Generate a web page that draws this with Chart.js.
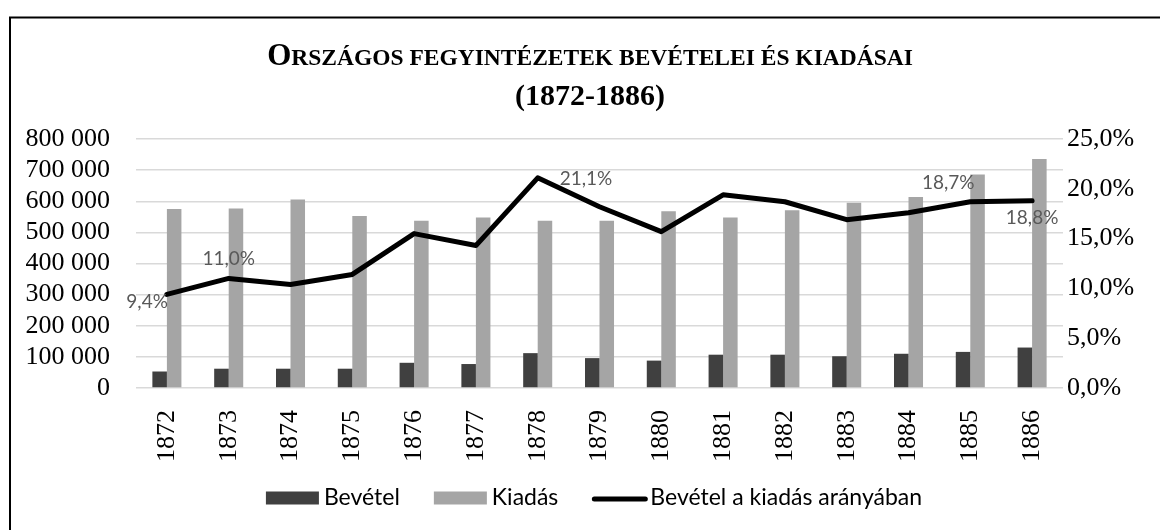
<!DOCTYPE html>
<html>
<head>
<meta charset="utf-8">
<script src="https://cdn.jsdelivr.net/npm/chart.js@4.4.1/dist/chart.umd.min.js"></script>
<style>
  html, body { margin: 0; padding: 0; background: #fff; }
  #wrap { width: 1160px; height: 530px; position: relative; }
</style>
</head>
<body>
<div id="wrap"><canvas id="chart"></canvas></div>
<script>
/* Országos fegyintézetek bevételei és kiadásai (1872-1886) */

const EVEK = ["1872", "1873", "1874", "1875", "1876", "1877", "1878", "1879",
              "1880", "1881", "1882", "1883", "1884", "1885", "1886"];

const BEVETEL = [53000, 62000, 62000, 62000, 81000, 77000, 112000, 96000,
                 88000, 107000, 107000, 102000, 110000, 116000, 130000];

const KIADAS = [575000, 577000, 606000, 553000, 537000, 548000, 537000, 537000,
                568000, 548000, 571000, 595000, 614000, 686000, 736000];

// bevétel a kiadás arányában, %
const ARANY = [9.4, 11.0, 10.4, 11.4, 15.5, 14.3, 21.1, 18.2,
               15.7, 19.4, 18.7, 16.9, 17.6, 18.7, 18.8];

const BAL_TENGELY = [0, 100000, 200000, 300000, 400000, 500000, 600000, 700000, 800000];
const JOBB_TENGELY = [0, 5, 10, 15, 20, 25];

const CIM_1 = "Országos fegyintézetek bevételei és kiadásai";
const CIM_2 = "(1872-1886)";

const SERIF = "'Liberation Serif', 'Times New Roman', serif";
const SANS = "Lato, 'Open Sans', sans-serif";

/* címkék helye a vonalon (index -> eltolás) */
const CIMKE_HELY = {
    0:  { dx: 1,   dy: 7,   align: "right" },
    1:  { dx: 0,   dy: -20, align: "center" },
    6:  { dx: 22,  dy: 1,   align: "left" },
    13: { dx: -22, dy: -19, align: "center" },
    14: { dx: 0,   dy: 17,  align: "center" }
};

function ezres(v) {
    if (v === 0) return "0";
    return String(v).replace(/\B(?=(\d{3})+(?!\d))/g, " ");
}

function szazalek(v) {
    return v.toFixed(1).replace(".", ",") + "%";
}

/* keret + fehér háttér */
const keretPlugin = {
    id: "keret",
    beforeDraw(chart) {
        const ctx = chart.ctx;
        ctx.save();
        ctx.fillStyle = "#fff";
        ctx.fillRect(0, 0, chart.width, chart.height);
        ctx.strokeStyle = "#000";
        ctx.lineWidth = 2;
        ctx.beginPath();
        ctx.moveTo(10, chart.height + 10);
        ctx.lineTo(10, 17.5);
        ctx.lineTo(chart.width + 10, 17.5);
        ctx.stroke();
        ctx.restore();
    }
};

/* kiskapitális cím */
function kiskapitalis(ctx, text, cx, y, nagy, kicsi) {
    const darabok = [];
    let szel = 0;
    for (const ch of text) {
        const upper = ch !== ch.toLowerCase();
        const meret = upper ? nagy : kicsi;
        const c = ch.toUpperCase();
        ctx.font = "bold " + meret + "px " + SERIF;
        const w = ctx.measureText(c).width;
        darabok.push({ c, meret, w });
        szel += w;
    }
    let x = cx - szel / 2;
    for (const d of darabok) {
        ctx.font = "bold " + d.meret + "px " + SERIF;
        ctx.fillText(d.c, x, y);
        x += d.w;
    }
}

const cimPlugin = {
    id: "cim",
    afterDraw(chart) {
        const ctx = chart.ctx;
        ctx.save();
        ctx.fillStyle = "#000";
        ctx.textBaseline = "alphabetic";
        ctx.textAlign = "left";
        kiskapitalis(ctx, CIM_1, 590, 65, 31, 23.5);
        ctx.textAlign = "center";
        ctx.font = "bold 30px " + SERIF;
        ctx.fillText(CIM_2, 590, 105);
        ctx.restore();
    }
};

/* adatcímkék a vonalon */
const cimkePlugin = {
    id: "cimkek",
    afterDatasetsDraw(chart) {
        const meta = chart.getDatasetMeta(2);
        const ctx = chart.ctx;
        ctx.save();
        ctx.font = "19px " + SANS;
        ctx.fillStyle = "#595959";
        ctx.textBaseline = "middle";
        for (const i in CIMKE_HELY) {
            const p = meta.data[i];
            const h = CIMKE_HELY[i];
            ctx.textAlign = h.align;
            ctx.fillText(szazalek(ARANY[i]), p.x + h.dx, p.y + h.dy);
        }
        ctx.restore();
    }
};

/* jelmagyarázat */
const jelmagyarazatPlugin = {
    id: "jelmagyarazat",
    afterDraw(chart) {
        const ctx = chart.ctx;
        const ds = chart.data.datasets;
        ctx.save();
        ctx.font = "23px " + SANS;
        ctx.textBaseline = "middle";
        ctx.textAlign = "left";
        const jelW = 53, res = 5, koz = 34, y = 498;
        let teljes = 0;
        ds.forEach((d, i) => {
            teljes += jelW + res + ctx.measureText(d.label).width;
            if (i < ds.length - 1) teljes += koz;
        });
        let x = 594 - teljes / 2;
        for (const d of ds) {
            if (d.type === "line") {
                ctx.strokeStyle = d.borderColor;
                ctx.lineWidth = 5;
                ctx.lineCap = "round";
                ctx.beginPath();
                ctx.moveTo(x + 2, y + 1);
                ctx.lineTo(x + jelW, y + 1);
                ctx.stroke();
            } else {
                ctx.fillStyle = d.backgroundColor;
                ctx.fillRect(x, y - 6.5, jelW, 13);
            }
            x += jelW + res;
            ctx.fillStyle = "#000";
            ctx.fillText(d.label, x, y);
            x += ctx.measureText(d.label).width + koz;
        }
        ctx.restore();
    }
};

new Chart(document.getElementById("chart"), {
    data: {
        labels: EVEK,
        datasets: [
            {
                type: "bar",
                label: "Bevétel",
                data: BEVETEL,
                backgroundColor: "#404040",
                yAxisID: "y",
                order: 1,
                categoryPercentage: 0.47,
                barPercentage: 1
            },
            {
                type: "bar",
                label: "Kiadás",
                data: KIADAS,
                backgroundColor: "#a5a5a5",
                yAxisID: "y",
                order: 1,
                categoryPercentage: 0.47,
                barPercentage: 1
            },
            {
                type: "line",
                label: "Bevétel a kiadás arányában",
                data: ARANY,
                borderColor: "#000",
                backgroundColor: "#000",
                borderWidth: 5,
                borderJoinStyle: "round",
                borderCapStyle: "round",
                tension: 0,
                pointRadius: 0,
                yAxisID: "y2",
                order: 0
            }
        ]
    },
    options: {
        responsive: true,
        maintainAspectRatio: false,
        animation: false,
        layout: { padding: { top: 139, left: 0, right: 0, bottom: 0 } },
        plugins: {
            legend: { display: false },
            title: { display: false },
            tooltip: { enabled: false }
        },
        scales: {
            x: {
                grid: { display: false },
                border: { display: false },
                ticks: {
                    color: "#000",
                    font: { family: SERIF, size: 26 },
                    minRotation: 90,
                    maxRotation: 90,
                    autoSkip: false,
                    padding: 14
                },
                afterFit(s) { s.height = 142; }
            },
            y: {
                position: "left",
                min: 0,
                max: BAL_TENGELY[BAL_TENGELY.length - 1],
                afterBuildTicks(s) { s.ticks = BAL_TENGELY.map(v => ({ value: v })); },
                grid: { color: "#d9d9d9", lineWidth: 1.5, drawTicks: false },
                border: { display: false },
                ticks: {
                    color: "#000",
                    font: { family: SERIF, size: 26 },
                    padding: 26,
                    autoSkip: false,
                    callback: v => ezres(v)
                },
                afterFit(s) { s.width = 136; }
            },
            y2: {
                position: "right",
                min: 0,
                max: JOBB_TENGELY[JOBB_TENGELY.length - 1],
                afterBuildTicks(s) { s.ticks = JOBB_TENGELY.map(v => ({ value: v })); },
                grid: { display: false, drawTicks: false },
                border: { display: false },
                ticks: {
                    color: "#000",
                    font: { family: SERIF, size: 26 },
                    padding: 4,
                    autoSkip: false,
                    callback: v => szazalek(v)
                },
                afterFit(s) { s.width = 97; }
            }
        }
    },
    plugins: [keretPlugin, cimkePlugin, cimPlugin, jelmagyarazatPlugin]
});
</script>
</body>
</html>
